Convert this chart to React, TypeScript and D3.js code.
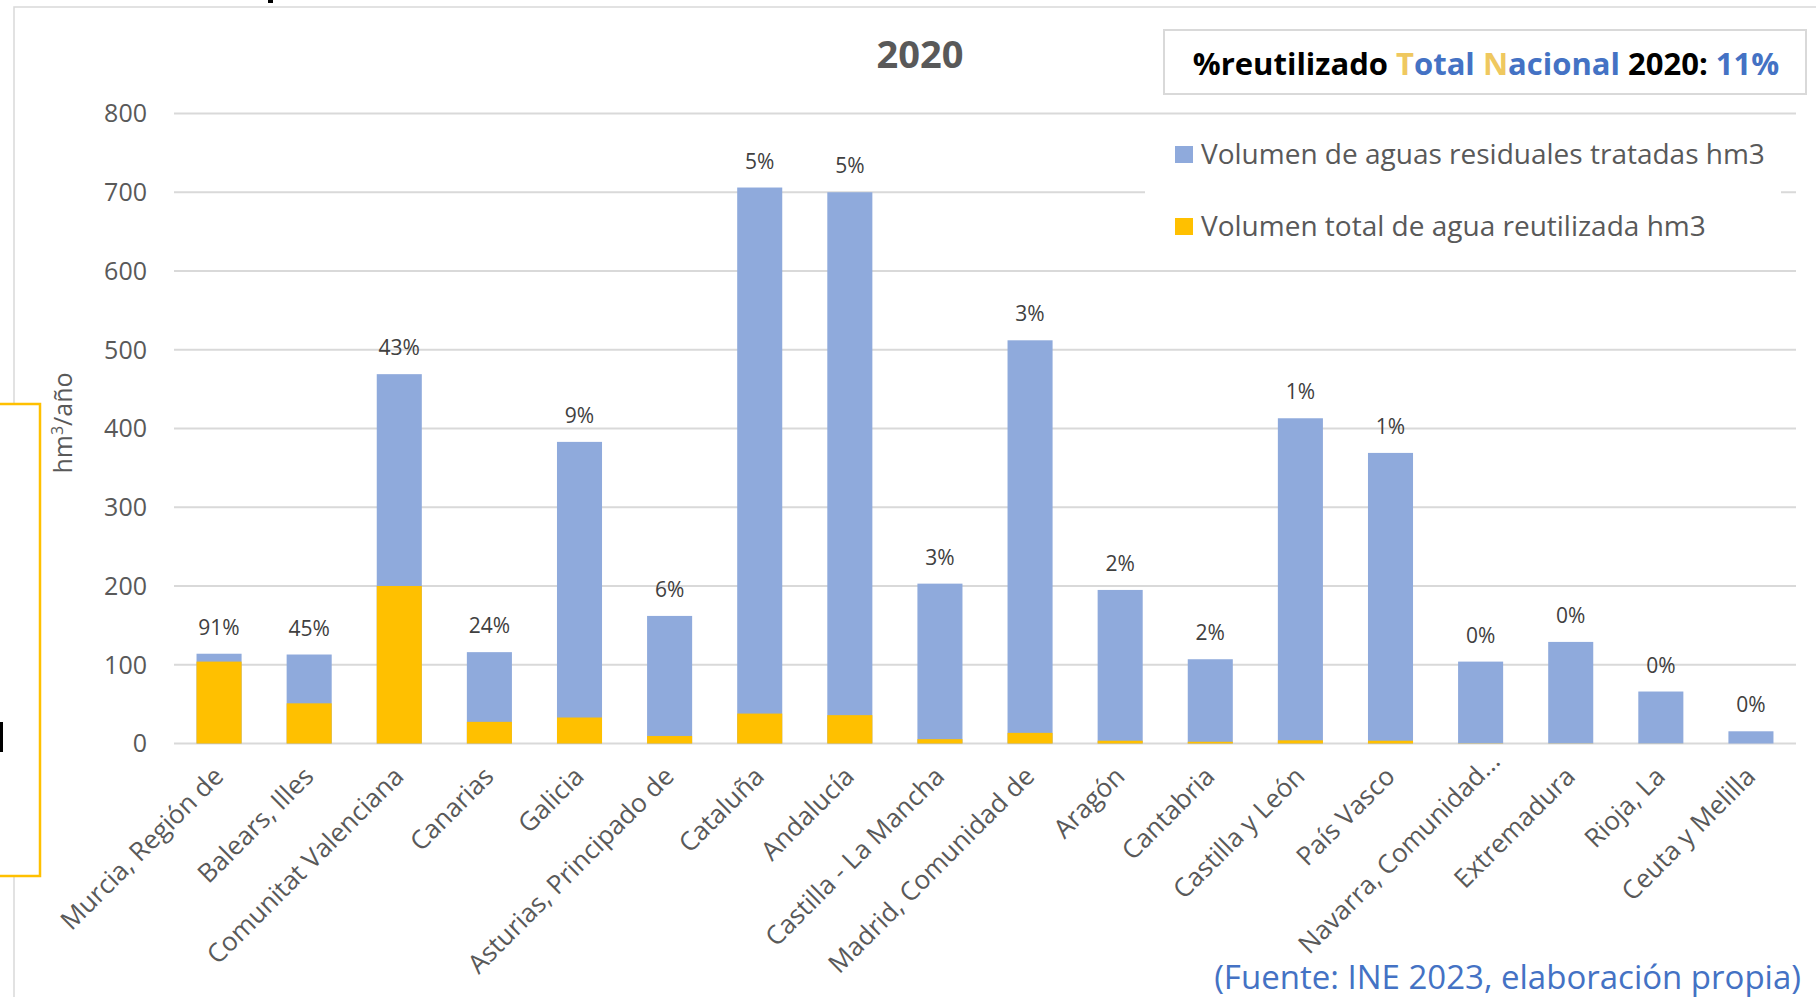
import React from "react";
import * as d3 from "d3";

const categories = [
  "Murcia, Región de",
  "Balears, Illes",
  "Comunitat Valenciana",
  "Canarias",
  "Galicia",
  "Asturias, Principado de",
  "Cataluña",
  "Andalucía",
  "Castilla - La Mancha",
  "Madrid, Comunidad de",
  "Aragón",
  "Cantabria",
  "Castilla y León",
  "País Vasco",
  "Navarra, Comunidad...",
  "Extremadura",
  "Rioja, La",
  "Ceuta y Melilla",
];
const treated = [114, 113, 469, 116, 383, 162, 706, 700, 203, 512, 195, 107, 413, 369, 104, 129, 66, 15.5];
const reused = [104, 51, 200, 27.5, 33, 9.5, 38, 36, 5.5, 13.5, 3.5, 2.2, 4, 3.5, 0.3, 0.2, 0.1, 0];
const pctLabels = ["91%", "45%", "43%", "24%", "9%", "6%", "5%", "5%", "3%", "3%", "2%", "2%", "1%", "1%", "0%", "0%", "0%", "0%"];
const yTicks = [0, 100, 200, 300, 400, 500, 600, 700, 800];
const seriesNames = ["Volumen de aguas residuales tratadas hm3", "Volumen total de agua reutilizada hm3"];

const W = 1816;
const H = 997;
const BLUE = "#8FAADC";
const YELLOW = "#FFC000";
const FONT = "'Open Sans', 'DejaVu Sans', sans-serif";

export default function App() {
  const x = d3.scaleBand<string>().domain(categories).range([174, 1796]).paddingInner(0.5).paddingOuter(0.25);
  const y = d3.scaleLinear().domain([0, 800]).range([743.5, 113.5]);
  const bw = x.bandwidth();

  return (
    <svg
      width={W}
      height={H}
      style={{ position: "absolute", left: 0, top: 0, background: "#fff", fontFamily: FONT }}
    >
      <rect x={0} y={0} width={W} height={H} fill="#fff" />
      {/* chart border */}
      <path d={`M14,${H} L14,7 L${W},7`} fill="none" stroke="#D9D9D9" strokeWidth={1.5} />
      {/* tiny cut glyph at top */}
      <rect x={268} y={0} width={5} height={3} fill="#000" />

      {/* gridlines */}
      {yTicks.map((t) => (
        <line key={t} x1={174} x2={1796} y1={y(t)} y2={y(t)} stroke="#D9D9D9" strokeWidth={2} />
      ))}
      {/* y tick labels */}
      {yTicks.map((t) => (
        <text key={"l" + t} x={147} y={y(t)} dy="0.35em" textAnchor="end" fontSize={25} fill="#595959">
          {t}
        </text>
      ))}

      {/* bars */}
      {categories.map((c, i) => {
        const cx = (x(c) as number) + bw / 2;
        const shift = c.endsWith("...") ? 15 : 0;
        return (
          <g key={c}>
            <rect x={x(c)} y={y(treated[i])} width={bw} height={y(0) - y(treated[i])} fill={BLUE} />
            <rect x={x(c)} y={y(reused[i])} width={bw} height={y(0) - y(reused[i])} fill={YELLOW} />
            <text x={cx} y={y(treated[i]) - 19} textAnchor="middle" fontSize={21} fill="#404040">
              {pctLabels[i]}
            </text>
            <text
              transform={`translate(${cx + 6 + shift},${778 - shift}) rotate(-45)`}
              textAnchor="end"
              fontSize={26}
              fill="#595959"
            >
              {c}
            </text>
          </g>
        );
      })}

      {/* y axis title */}
      <text transform="translate(72,423) rotate(-90)" textAnchor="middle" fontSize={25} fill="#595959">
        hm<tspan fontSize={16} dy={-9}>3</tspan>
        <tspan dy={9}>/año</tspan>
      </text>

      {/* chart title */}
      <text x={920} y={68} textAnchor="middle" fontSize={38} fontWeight="bold" fill="#595959">
        2020
      </text>

      {/* legend */}
      <rect x={1145} y={122} width={636} height={140} fill="#fff" />
      <rect x={1175} y={146} width={18} height={17} fill={BLUE} />
      <text x={1201} y={164} fontSize={28} fill="#595959">
        {seriesNames[0]}
      </text>
      <rect x={1175} y={218} width={18} height={17} fill={YELLOW} />
      <text x={1201} y={236} fontSize={28} fill="#595959">
        {seriesNames[1]}
      </text>

      {/* national total box */}
      <rect x={1164} y={30} width={642} height={64} fill="#fff" stroke="#D9D9D9" strokeWidth={2} />
      <text x={1486} y={75} textAnchor="middle" fontSize={31} fontWeight="bold" fill="#000">
        %reutilizado <tspan fill="#EFC85F">T</tspan>
        <tspan fill="#4472C4">otal </tspan>
        <tspan fill="#EFC85F">N</tspan>
        <tspan fill="#4472C4">acional</tspan> 2020: <tspan fill="#4472C4">11%</tspan>
      </text>

      {/* left yellow box */}
      <rect x={-5} y={404} width={45} height={472} fill="#fff" stroke="#FFC000" strokeWidth={2.5} />
      <rect x={0} y={722} width={3} height={30} fill="#000" />

      {/* source */}
      <text x={1801} y={989} textAnchor="end" fontSize={33} fill="#4472C4">
        (Fuente: INE 2023, elaboración propia)
      </text>
    </svg>
  );
}
